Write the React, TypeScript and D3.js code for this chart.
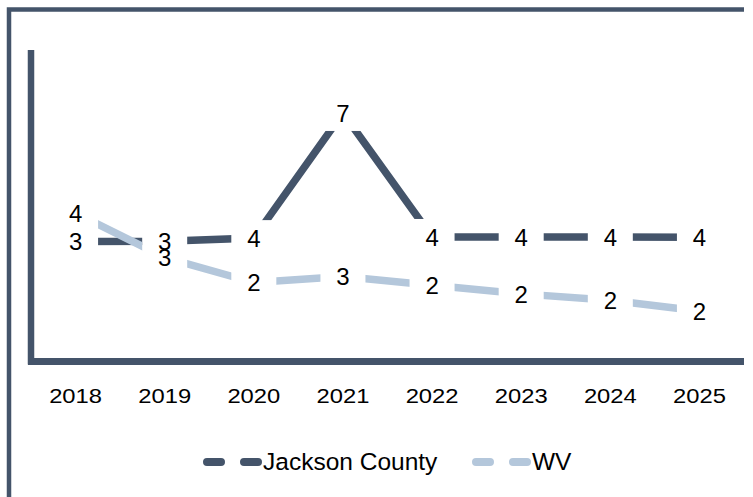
import React from 'react';
import * as d3 from 'd3';

const years = ['2018', '2019', '2020', '2021', '2022', '2023', '2024', '2025'];
const jackson = [3.45, 3.46, 3.54, 6.84, 3.57, 3.57, 3.57, 3.56];
const wv = [4.2, 3.03, 2.37, 2.53, 2.3, 2.07, 1.9, 1.62];

const seriesNames = ['Jackson County', 'WV'];
const seriesColors = ['#44546a', '#b4c7db'];

const W = 753;
const H = 497;
const plot = { left: 31, right: 744, top: 50, bottom: 361 };

const App = () => {
  const x = d3.scalePoint<string>().domain(years).range([plot.left, plot.right]).padding(0.5);
  const y = d3.scaleLinear().domain([0.3, 8.5]).range([plot.bottom, plot.top]);
  const line = d3.line<number>()
    .x((d, i) => x(years[i]) as number)
    .y(d => y(d));

  const series = [jackson, wv];
  // label boxes knock the line out around each point
  const boxW = 45;
  const boxH = 36;

  return (
    <svg width={W} height={H} style={{ position: 'absolute', left: 0, top: 0, background: 'white' }}
      fontFamily="'Liberation Sans', Arial, sans-serif">
      <defs>
        {series.map((vals, s) => (
          <mask key={s} id={`m${s}`} maskUnits="userSpaceOnUse" x={0} y={0} width={W} height={H}>
            <rect x={0} y={0} width={W} height={H} fill="white" />
            {vals.map((v, i) => (
              <rect key={i} x={(x(years[i]) as number) - boxW / 2} y={y(v) - boxH / 2}
                width={boxW} height={boxH} fill="black" />
            ))}
          </mask>
        ))}
      </defs>

      {/* outer frame */}
      <path d={`M9,${H} V9.5 H744`} fill="none" stroke="#44546a" strokeWidth={4.5} />

      {/* axes */}
      <line x1={plot.left} x2={plot.left} y1={plot.top} y2={plot.bottom + 3.5} stroke="#44546a" strokeWidth={6.5} />
      <line x1={plot.left - 3} x2={plot.right} y1={plot.bottom + 0.5} y2={plot.bottom + 0.5} stroke="#44546a" strokeWidth={7} />

      {years.map(yr => (
        <text key={yr} transform={`translate(${x(yr)},403) scale(1.16,1)`} textAnchor="middle"
          fontSize={20.5} fill="#000">{yr}</text>
      ))}

      {series.map((vals, s) => (
        <path key={s} d={line(vals) as string} fill="none" stroke={seriesColors[s]} strokeWidth={7.5}
          mask={`url(#m${s})`} />
      ))}
      {series.map((vals, s) => (
        <g key={`l${s}`}>
          {vals.map((v, i) => (
            <text key={i} x={x(years[i])} y={y(v)} dy="0.36em" textAnchor="middle" fontSize={24} fill="#000">
              {Math.round(v)}
            </text>
          ))}
        </g>
      ))}

      {/* legend */}
      {seriesNames.map((name, s) => {
        const lx = s === 0 ? 207 : 476;
        return (
          <g key={name}>
            <line x1={lx} x2={lx + 51} y1={462} y2={462} stroke={seriesColors[s]} strokeWidth={8}
              strokeLinecap="round" strokeDasharray="14 23" />
            <text x={lx + 56} y={470} fontSize={24.5} fill="#000">{name}</text>
          </g>
        );
      })}
    </svg>
  );
};

export default App;
